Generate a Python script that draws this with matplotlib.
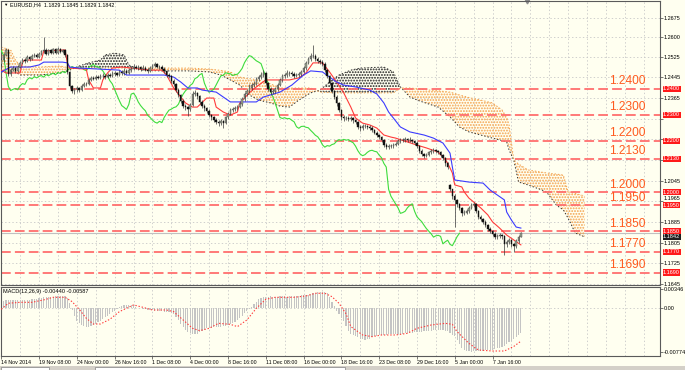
import numpy as np
import matplotlib.pyplot as plt
from matplotlib.ticker import NullFormatter
from matplotlib.patches import Rectangle
from matplotlib.transforms import blended_transform_factory

plt.rcParams['font.family'] = ['Liberation Sans', 'DejaVu Sans']
plt.rcParams['lines.scale_dashes'] = False
plt.rcParams['hatch.linewidth'] = 0.9

symbol_text = 'EURUSD,H4  1.1829 1.1845 1.1829 1.1842'
macd_text = 'MACD(12,26,9) -0.00440 -0.00587'

# H4 candles, prices in pips (1e-4); bar 0 = 14 Nov 2014
close = np.array([
    12512, 12530, 12551, 12458, 12475, 12481, 12468, 12487, 12500, 12514,
    12508, 12524, 12515, 12529, 12533, 12524, 12537, 12546, 12552, 12536,
    12549, 12541, 12553, 12540, 12556, 12545, 12549, 12530, 12466, 12410,
    12394, 12399, 12402, 12397, 12413, 12421, 12418, 12436, 12444, 12439,
    12448, 12443, 12449, 12452, 12446, 12456, 12451, 12457, 12461, 12455,
    12464, 12460, 12468, 12463, 12472, 12479, 12487, 12482, 12484, 12478,
    12483, 12475, 12471, 12483, 12490, 12495, 12487, 12486, 12479, 12470,
    12456, 12451, 12432, 12420, 12398, 12377, 12355, 12336, 12329, 12321,
    12340, 12380, 12384, 12371, 12350, 12336, 12325, 12316, 12298, 12290,
    12280, 12272, 12268, 12275, 12270, 12290, 12305, 12318, 12322, 12328,
    12331, 12341, 12362, 12380, 12393, 12402, 12414, 12421, 12440, 12445,
    12455, 12460, 12423, 12401, 12387, 12393, 12399, 12416, 12434, 12451,
    12453, 12463, 12460, 12459, 12452, 12456, 12457, 12467, 12480, 12502,
    12517, 12529, 12526, 12517, 12509, 12504, 12498, 12472, 12450, 12422,
    12391, 12370, 12345, 12318, 12290, 12286, 12289, 12285, 12286, 12279,
    12273, 12254, 12248, 12255, 12256, 12252, 12250, 12240, 12231, 12221,
    12215, 12202, 12184, 12175, 12181, 12179, 12185, 12188, 12198, 12204,
    12201, 12205, 12202, 12204, 12197, 12192, 12179, 12161, 12148, 12142,
    12146, 12155, 12161, 12163, 12159, 12157, 12144, 12134, 12112, 12098,
    12012, 11985, 11970, 11955, 11940, 11919, 11922, 11927, 11941, 11950,
    11956, 11927, 11906, 11896, 11887, 11873, 11860, 11850, 11840, 11827,
    11832, 11834, 11830, 11801, 11809, 11815, 11799, 11794, 11811, 11829,
    11842]) / 1e4
high = np.array([
    12520, 12538, 12560, 12556, 12482, 12490, 12486, 12494, 12507, 12520,
    12519, 12530, 12528, 12535, 12540, 12538, 12542, 12552, 12600, 12560,
    12556, 12554, 12560, 12558, 12563, 12560, 12556, 12554, 12534, 12470,
    12416, 12405, 12410, 12408, 12418, 12428, 12427, 12442, 12452, 12450,
    12455, 12453, 12458, 12462, 12458, 12463, 12462, 12468, 12470, 12466,
    12472, 12475, 12480, 12476, 12482, 12488, 12496, 12494, 12492, 12490,
    12491, 12488, 12480, 12489, 12498, 12503, 12499, 12494, 12492, 12484,
    12474, 12462, 12456, 12438, 12424, 12402, 12381, 12360, 12342, 12335,
    12346, 12392, 12396, 12390, 12376, 12356, 12341, 12331, 12321, 12305,
    12296, 12286, 12280, 12283, 12282, 12296, 12312, 12325, 12331, 12336,
    12340, 12350, 12370, 12388, 12400, 12418, 12422, 12430, 12448, 12455,
    12465, 12472, 12466, 12428, 12406, 12400, 12408, 12422, 12441, 12458,
    12462, 12472, 12470, 12468, 12464, 12463, 12466, 12475, 12488, 12510,
    12525, 12540, 12570, 12535, 12524, 12516, 12511, 12503, 12478, 12456,
    12428, 12398, 12376, 12350, 12323, 12298, 12297, 12296, 12294, 12292,
    12284, 12278, 12260, 12263, 12264, 12262, 12259, 12256, 12246, 12236,
    12227, 12220, 12207, 12190, 12188, 12187, 12193, 12196, 12205, 12212,
    12210, 12213, 12211, 12215, 12208, 12202, 12198, 12184, 12166, 12154,
    12152, 12162, 12168, 12170, 12168, 12165, 12162, 12150, 12138, 12116,
    12034, 12015, 11992, 11975, 11960, 11945, 11930, 11935, 11948, 11958,
    11963, 11960, 11932, 11912, 11902, 11892, 11878, 11866, 11856, 11845,
    11840, 11842, 11840, 11835, 11816, 11822, 11820, 11805, 11818, 11835,
    11845]) / 1e4
low = np.array([
    12488, 12506, 12526, 12450, 12452, 12470, 12460, 12464, 12482, 12495,
    12502, 12505, 12510, 12512, 12524, 12519, 12520, 12533, 12540, 12530,
    12532, 12536, 12537, 12535, 12536, 12540, 12540, 12524, 12458, 12402,
    12385, 12382, 12390, 12388, 12392, 12408, 12411, 12414, 12430, 12433,
    12434, 12437, 12438, 12444, 12440, 12441, 12445, 12447, 12452, 12449,
    12450, 12454, 12456, 12457, 12458, 12467, 12474, 12476, 12474, 12470,
    12472, 12468, 12462, 12466, 12478, 12484, 12480, 12478, 12472, 12462,
    12448, 12443, 12425, 12412, 12390, 12368, 12346, 12328, 12318, 12296,
    12314, 12335, 12372, 12363, 12342, 12326, 12314, 12306, 12290, 12281,
    12273, 12264, 12258, 12260, 12249, 12265, 12284, 12300, 12312, 12316,
    12320, 12325, 12336, 12355, 12372, 12386, 12396, 12406, 12414, 12432,
    12438, 12448, 12416, 12393, 12378, 12380, 12386, 12392, 12410, 12428,
    12443, 12446, 12452, 12450, 12444, 12445, 12448, 12450, 12460, 12475,
    12496, 12510, 12518, 12510, 12502, 12496, 12490, 12465, 12442, 12414,
    12383, 12362, 12336, 12310, 12282, 12278, 12279, 12277, 12278, 12270,
    12264, 12245, 12238, 12240, 12248, 12244, 12242, 12233, 12224, 12213,
    12207, 12195, 12176, 12166, 12168, 12170, 12172, 12178, 12182, 12191,
    12194, 12195, 12195, 12196, 12190, 12184, 12172, 12154, 12140, 12135,
    12136, 12140, 12150, 12154, 12152, 12150, 12137, 12126, 12104, 12090,
    12004, 11975, 11866, 11945, 11930, 11910, 11912, 11915, 11920, 11935,
    11944, 11920, 11898, 11888, 11879, 11866, 11852, 11843, 11832, 11819,
    11820, 11825, 11820, 11758, 11790, 11800, 11790, 11770, 11786, 11805,
    11829]) / 1e4
first_open = 1.2495
gap_bar, gap_open = 190, 1.2030

# Ichimoku lines: (bar, price in pips)
tenkan_bar = [0, 2, 8, 9, 10, 17, 18, 27, 28, 29, 36, 37, 39, 42, 43,
              45, 47, 51, 63, 68, 70, 73, 76, 78, 81, 83, 87, 90, 91, 94,
              97, 100, 101, 103, 105, 108, 112, 117, 122, 126, 129, 132, 136, 139, 142,
              145, 148, 150, 153, 156, 159, 162, 165, 167, 172, 176, 180, 185, 187, 189,
              191, 192, 195, 196, 198, 200, 203, 206, 208, 211, 214, 217, 220]
tenkan_val = [12473, 12462, 12462, 12504, 12512, 12512, 12547, 12551, 12501, 12481,
              12477, 12435, 12404, 12404, 12435, 12462, 12481, 12485, 12473, 12473,
              12454, 12404, 12369, 12346, 12330, 12330, 12365, 12365, 12330, 12311,
              12299, 12311, 12346, 12365, 12385, 12408, 12435, 12435, 12435, 12443,
              12462, 12501, 12501, 12466, 12427, 12385, 12330, 12288, 12268, 12261,
              12249, 12222, 12214, 12210, 12195, 12183, 12172, 12156, 12137, 12114,
              12075, 12029, 12021, 12002, 11978, 11963, 11940, 11913, 11886, 11862,
              11835, 11816, 11797]
kijun_bar = [0, 4, 12, 16, 18, 26, 28, 29, 33, 50, 53, 69, 73, 76, 79,
             83, 85, 91, 94, 97, 108, 111, 118, 123, 128, 131, 136, 139, 142, 145,
             150, 156, 159, 162, 164, 166, 169, 173, 179, 183, 187, 190, 191, 192, 198,
             204, 207, 210, 213, 214, 216, 218, 220]
kijun_val = [12466, 12485, 12485, 12493, 12504, 12504, 12501, 12485, 12481, 12473,
             12454, 12454, 12446, 12427, 12404, 12404, 12396, 12388, 12369, 12350,
             12350, 12369, 12388, 12415, 12454, 12470, 12466, 12446, 12427, 12415,
             12408, 12396, 12381, 12346, 12311, 12288, 12253, 12234, 12222, 12210,
             12191, 12152, 12098, 12048, 12040, 12036, 12009, 11990, 11971, 11924,
             11893, 11866, 11862]
cloud_bar = [0, 4, 6, 8, 16, 25, 29, 33, 37, 42, 44, 48, 52, 54, 59,
             67, 80, 88, 93, 97, 101, 105, 109, 114, 118, 122, 126, 131, 135, 139,
             143, 148, 152, 162, 166, 169, 173, 177, 181, 185, 190, 194, 198, 203, 208,
             212, 214, 215, 217, 219, 223, 229, 231, 235, 238, 240, 241, 243, 247]
span_a = [12466, 12466, 12466, 12454, 12454, 12462, 12473, 12489, 12501, 12512,
          12532, 12539, 12532, 12493, 12473, 12470, 12470, 12466, 12454, 12435,
          12415, 12377, 12357, 12346, 12334, 12330, 12357, 12385, 12396, 12427,
          12454, 12473, 12481, 12485, 12466, 12408, 12369, 12354, 12342, 12330,
          12292, 12253, 12234, 12222, 12210, 12200, 12195, 12164, 12125, 12040,
          12029, 12009, 12000, 11951, 11932, 11900, 11882, 11843, 11828]
span_b = [12562, 12551, 12512, 12489, 12485, 12489, 12481, 12481, 12481, 12481,
          12481, 12481, 12481, 12481, 12481, 12481, 12481, 12477, 12472, 12466,
          12446, 12440, 12435, 12420, 12404, 12404, 12404, 12404, 12388, 12386,
          12385, 12385, 12385, 12385, 12385, 12404, 12404, 12400, 12396, 12393,
          12388, 12377, 12367, 12357, 12346, 12319, 12290, 12261, 12125, 12110,
          12087, 12078, 12075, 12071, 12067, 12002, 12000, 11996, 11986]

# MACD main (histogram) per bar and signal, in 1e-5
macd_hist = np.array([
    135, 138, 140, 140, 142, 140, 145, 148, 150, 150,
    152, 150, 155, 158, 160, 165, 175, 185, 195, 200,
    205, 208, 210, 215, 220, 222, 220, 215, 180, 90,
    -30, -140, -230, -270, -300, -320, -330, -330, -320, -300,
    -280, -250, -220, -190, -160, -130, -100, -70, -40, -10,
    20, 40, 55, 60, 62, 60, 50, 30, 10, 0,
    -10, -20, -25, -30, -35, -40, -45, -50, -55, -60,
    -65, -70, -80, -100, -150, -210, -280, -340, -390, -420,
    -440, -450, -455, -450, -430, -400, -380, -360, -350, -345,
    -340, -335, -330, -325, -320, -310, -300, -285, -270, -240,
    -210, -170, -130, -90, -50, -10, 30, 80, 120, 160,
    180, 195, 205, 210, 212, 210, 208, 210, 212, 215,
    212, 210, 212, 215, 218, 222, 228, 232, 236, 240,
    245, 255, 265, 275, 282, 288, 292, 288, 270, 200,
    120, 40, -40, -110, -170, -230, -320, -400, -450, -480,
    -500, -520, -540, -555, -560, -555, -540, -520, -500, -490,
    -480, -475, -470, -468, -465, -462, -460, -458, -455, -452,
    -450, -448, -445, -440, -435, -430, -425, -420, -415, -410,
    -405, -400, -398, -395, -392, -390, -392, -395, -400, -410,
    -440, -470, -500, -560, -640, -700, -740, -760, -770, -774,
    -770, -768, -765, -760, -755, -750, -748, -745, -740, -730,
    -715, -700, -685, -665, -640, -610, -580, -545, -510, -475,
    -440]) * 1e-5
sig_bar = [0, 3, 8, 13, 18, 22, 27, 30, 33, 36, 39, 42, 46, 50, 56,
           60, 64, 70, 73, 77, 81, 84, 88, 92, 97, 100, 104, 108, 112, 116,
           124, 129, 133, 137, 140, 143, 146, 148, 153, 157, 161, 167, 172, 176, 182,
           188, 191, 193, 198, 202, 208, 213, 217, 220]
sig_val = np.array([-18, 90, 107, 107, 150, 196, 196, 119, -18, -178,
                    -280, -280, -196, -60, 60, 18, -30, -30, -60, -208,
                    -357, -399, -357, -268, -286, -327, -208, 0, 161, 196,
                    196, 220, 268, 268, 208, 89, -100, -327, -476, -506,
                    -476, -476, -446, -357, -298, -268, -286, -417, -625, -744,
                    -762, -762, -680, -587]) * 1e-5

levels = [1.2400, 1.2300, 1.2200, 1.2130, 1.2000, 1.1950, 1.1850, 1.1770, 1.1690]
last_price = 1.1842
price_ticks = [1.2675, 1.2600, 1.2525, 1.2445, 1.2365, 1.2285, 1.2205,
               1.2125, 1.2045, 1.1965, 1.1885, 1.1805, 1.1725, 1.1645]
hidden_ticks = [1.2285, 1.2205, 1.2125]   # covered by level boxes in the terminal
raised_ticks = [1.1965]                   # only peeks out above a level box
macd_ticks = [0.00346, 0.0, -0.00774]
macd_tick_labels = ['0.00346', '0.00', '-0.00774']
date_labels = ['14 Nov 2014', '19 Nov 08:00', '24 Nov 00:00', '26 Nov 16:00',
               '1 Dec 08:00', '4 Dec 00:00', '8 Dec 16:00', '11 Dec 08:00',
               '16 Dec 00:00', '18 Dec 16:00', '23 Dec 08:00', '29 Dec 16:00',
               '5 Jan 00:00', '7 Jan 16:00']
date_step = 16

# ---- layout (pixels of a 685x370 picture)
W, H = 685, 370
BG = '#fffff0'
fig = plt.figure(figsize=(W / 100, H / 100), dpi=100, facecolor=BG)


def axes_px(x0, y0, x1, y1):
    return fig.add_axes([x0 / W, 1 - y1 / H, (x1 - x0) / W, (y1 - y0) / H], facecolor=BG)


ax = axes_px(1, 1, 660, 285)
axm = axes_px(1, 287, 660, 356)
dotted = (0, (1, 1.6))
grid_bars = np.arange(0, 280, 8)
for a in (ax, axm):
    a.set_xlim(-0.1, 278.9)
    a.set_xticks(grid_bars)
    a.xaxis.set_major_formatter(NullFormatter())
    a.tick_params(axis='x', which='major', length=0)
    a.grid(axis='x', color='#c8c8c8', ls=dotted, lw=0.6)
    a.yaxis.tick_right()
    a.tick_params(axis='y', length=2, width=0.5, pad=0.8, labelsize=4, color='#404040')
    for s in a.spines.values():
        s.set_color('#5a5a5a')
        s.set_linewidth(0.8)

# ---- main price panel
ax.set_ylim(1.16418, 1.27404)
ax.set_yticks(price_ticks)
ax.set_yticklabels(['' if p in hidden_ticks else f'{p:.4f}' for p in price_ticks])
for p, lab in zip(price_ticks, ax.get_yticklabels()):
    if p in raised_ticks:
        lab.set_va('bottom')
ax.grid(axis='y', color='#c8c8c8', ls=dotted, lw=0.6)
ax.axhline(last_price, color='#c0c0c0', lw=0.8, zorder=1)

cb = np.array(cloud_bar)
sa = np.array(span_a) / 1e4
sb = np.array(span_b) / 1e4
ax.fill_between(cb, sa, sb, where=sb >= sa, interpolate=True, facecolor='none',
                edgecolor='#f4a24c', hatch='......', lw=0, zorder=1.6)
ax.fill_between(cb, sa, sb, where=sa > sb, interpolate=True, facecolor='none',
                edgecolor='#1e1e1e', hatch='......', lw=0, zorder=1.6)
ax.plot(cb, sa, color='#303030', ls=(0, (1, 1.4)), lw=0.7, zorder=1.7)
ax.plot(cb, sb, color='#f4a24c', ls=(0, (1, 1.4)), lw=0.7, zorder=1.7)

for lvl in levels:
    ax.axhline(lvl, color='#ff6e6e', lw=1.3, ls=(0, (7, 3)), zorder=2)
    ax.annotate(f'{lvl:.4f}', xy=(257.3, lvl), xytext=(0, 1.2), textcoords='offset points',
                color='#ff5a1e', fontsize=8.6, ha='left', va='bottom', zorder=6)

n = len(close)
bars = np.arange(n)
opens = np.r_[first_open, close[:-1]]
opens[gap_bar] = gap_open
up = close >= opens
body_lo = np.minimum(opens, close)
body_h = np.maximum(np.abs(close - opens), 0.00006)
ax.plot(bars[26:] - 26, close[26:], color='#3ddc3d', lw=0.8, zorder=3)
ax.plot(tenkan_bar, np.array(tenkan_val) / 1e4, color='#ff3b3b', lw=0.8, zorder=3)
ax.plot(kijun_bar, np.array(kijun_val) / 1e4, color='#3b3bff', lw=0.8, zorder=3)
ax.vlines(bars, low, high, color='#3a3a3a', lw=0.5, zorder=4)
ax.bar(bars[up], body_h[up], bottom=body_lo[up], width=0.62, color='#97a08c',
       edgecolor='#4a4a4a', lw=0.3, zorder=5)
ax.bar(bars[~up], body_h[~up], bottom=body_lo[~up], width=0.62, color='#111111',
       edgecolor='#111111', lw=0.3, zorder=5)


def right_box(a, y, txt, fc, dy=0, va='center'):
    a.annotate(txt, xy=(1, y), xycoords=('axes fraction', 'data'), xytext=(2.2, dy),
               textcoords='offset points', va=va, ha='left', fontsize=4,
               color='white', bbox=dict(boxstyle='square,pad=0.1', fc=fc, ec='none'),
               annotation_clip=False, zorder=7)


# bid price box sits just under the 1.1850 level box
right_box(ax, last_price, f'{last_price:.4f}', '#202020', dy=-0.9, va='top')
for lvl in levels:
    right_box(ax, lvl, f'{lvl:.4f}', '#ff1a1a')

ax.plot([222.6], [1.0], marker='v', color='#8c8c8c', ms=3.5,
        transform=blended_transform_factory(ax.transData, ax.transAxes), clip_on=False)

# ---- MACD panel
axm.set_ylim(-0.00851, 0.0038)
axm.set_yticks(macd_ticks)
axm.set_yticklabels(macd_tick_labels)
axm.axhline(0, color='#c8c8c8', ls=dotted, lw=0.6, zorder=1)
axm.bar(bars, macd_hist, width=0.5, color='#c4c4c4', lw=0, zorder=2)
axm.plot(sig_bar, sig_val, color='#ff3c3c', ls=(0, (1, 1.3)), lw=0.8, zorder=3)

date_bars = np.arange(len(date_labels)) * date_step
axm.xaxis.remove_overlapping_locs = False
axm.set_xticks(date_bars, labels=date_labels, minor=True)
axm.tick_params(axis='x', which='minor', length=2, width=0.5, pad=0.6, labelsize=3.8,
                color='#404040')
plt.setp(axm.get_xticklabels(minor=True), ha='left')

# ---- header texts and bottom strip
fig.text(3 / W, 1 - 5 / H, '\u25bc', fontsize=3.2, va='center', ha='left')
fig.text(10 / W, 1 - 5 / H, symbol_text, fontsize=3.9, va='center', ha='left')
fig.text(3 / W, 1 - 292 / H, macd_text, fontsize=4, va='center', ha='left')
fig.patches.append(Rectangle((0, 0), 1, 4 / H, transform=fig.transFigure,
                             fc='#d4d0c8', ec='none'))
fig.patches.append(Rectangle((1 / W, 0), 48 / W, 3 / H, transform=fig.transFigure,
                             fc='white', ec='#808080', lw=0.5))
fig.patches.append(Rectangle((95 / W, 0), 250 / W, 3 / H, transform=fig.transFigure,
                             fc='white', ec='#808080', lw=0.5))

fig.savefig('out.png', dpi=100, facecolor=BG)
